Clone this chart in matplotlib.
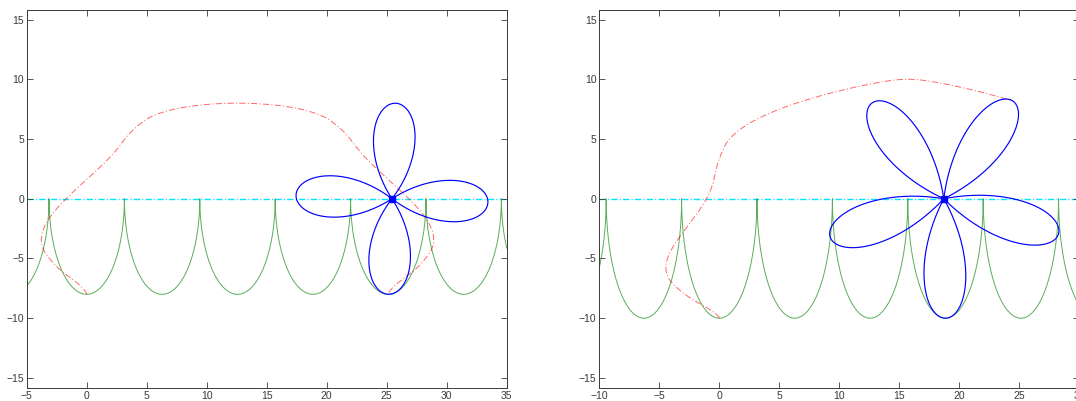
import numpy as np
import matplotlib
matplotlib.use("Agg")
import matplotlib.pyplot as plt

plt.rcParams['font.family'] = ['Liberation Sans', 'DejaVu Sans']
plt.rcParams['lines.scale_dashes'] = False

# ---- values ----
petal_counts = [4, 5]                 # petals of the rolling rose (left, right)
petal_lengths = [8.0, 10.0]           # rose radius = depth of the road
road_half_period = np.pi              # road cusps at odd multiples of pi
roll_angles_deg = [362.2, 215.2]      # wheel rotation at the snapshot
x_limits = [(-5, 35), (-10, 30)]
y_limit = 15.8
x_ticks = [[-5, 0, 5, 10, 15, 20, 25, 30, 35],
           [-10, -5, 0, 5, 10, 15, 20, 25, 30]]
y_ticks = [-15, -10, -5, 0, 5, 10, 15]

W, H = 1076, 401
fig = plt.figure(figsize=(W / 100, H / 100), dpi=100)
ax_boxes = [[26.7 / W, 13.5 / H, 480 / W, 377.5 / H],
            [599.3 / W, 13.5 / H, 480 / W, 377.5 / H]]

dash_dot = (0, (4.5, 1.6, 0.8, 1.6))
axis_col = '#3a3a3a'


def axle_x(alpha, n, a):
    """Axle position for wheel rotation alpha (rose rolling on its road)."""
    k = a / road_half_period
    h = np.pi / (2 * k)
    step = 2 * np.pi / n
    j = np.round(alpha / step)
    phi = alpha - j * step
    s = np.where(np.abs(phi) <= h, np.sin(k * np.clip(phi, -h, h)), np.sign(phi))
    return 2 * road_half_period * j + road_half_period * s


for idx in range(2):
    ax = fig.add_axes(ax_boxes[idx])
    n = petal_counts[idx]
    a = petal_lengths[idx]
    k = a / road_half_period
    h = np.pi / (2 * k)
    step = 2 * np.pi / n
    x0, x1 = x_limits[idx]
    alpha_end = np.deg2rad(roll_angles_deg[idx])

    # axle line
    ax.plot([x0, x1], [0, 0], color='#00e5ff', lw=1.0, linestyle=dash_dot, zorder=1)

    # road: chain of half ellipses
    u = np.linspace(-np.pi / 2, np.pi / 2, 400)
    jmin = int(np.floor(x0 / (2 * road_half_period))) - 1
    jmax = int(np.ceil(x1 / (2 * road_half_period))) + 1
    rx, ry = [], []
    for j in range(jmin, jmax + 1):
        rx.append(2 * road_half_period * j + road_half_period * np.sin(u))
        ry.append(-a * np.cos(u))
    ax.plot(np.concatenate(rx), np.concatenate(ry), color='#2f9a2f', lw=0.7,
            alpha=0.8, zorder=2)

    # trace of the tracked petal tip
    al = np.linspace(0, alpha_end, 4000)
    tx = axle_x(al, n, a) + a * np.cos(-np.pi / 2 - al)
    ty = a * np.sin(-np.pi / 2 - al)
    ax.plot(tx, ty, color='red', lw=0.7, alpha=0.6, linestyle=dash_dot, zorder=3)

    # rose at the snapshot
    xc = float(axle_x(np.array([alpha_end]), n, a)[0])
    tip = -np.pi / 2 - alpha_end
    psi = np.linspace(-h, h, 400)
    r = a * np.cos(k * psi)
    for i in range(n):
        beta = tip + i * step
        ax.plot(xc + r * np.cos(beta + psi), r * np.sin(beta + psi),
                color='blue', lw=0.85, zorder=4)
    ax.plot([xc], [0], 's', color='blue', ms=4.5, zorder=5)

    ax.set_xlim(x0, x1)
    ax.set_ylim(-y_limit, y_limit)
    ax.set_xticks(x_ticks[idx])
    ax.set_yticks(y_ticks)
    ax.tick_params(direction='in', top=True, right=True, length=4, width=0.6,
                   colors=axis_col, labelsize=7.5, pad=2.5)
    ax.tick_params(axis='y', pad=2)
    for sp in ax.spines.values():
        sp.set_color(axis_col)
        sp.set_linewidth(0.7)

fig.savefig('out.png', dpi=100)
